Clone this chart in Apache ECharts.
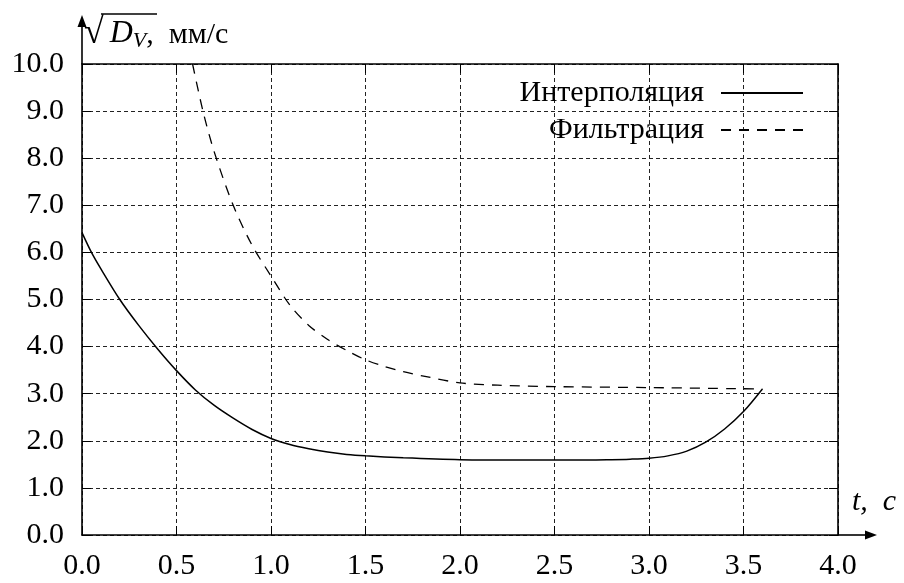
<!DOCTYPE html>
<html>
<head>
<meta charset="utf-8">
<script src="https://cdn.jsdelivr.net/npm/echarts@6/dist/echarts.min.js"></script>
<style>
html,body{margin:0;padding:0;background:#fff;}
#chart{width:904px;height:583px;}
</style>
</head>
<body>
<div id="chart"></div>
<script>
// ---- data ----
const interpT = [0, 0.05, 0.1, 0.2, 0.3, 0.4, 0.5, 0.6, 0.7, 0.8, 0.9, 1.0, 1.1, 1.2, 1.3, 1.4, 1.5, 1.7, 2.0, 2.3, 2.6, 2.8, 2.9, 3.0, 3.1, 3.2, 3.3, 3.4, 3.5, 3.6];
const interpV = [6.42, 6.0, 5.65, 5.0, 4.45, 3.95, 3.49, 3.08, 2.75, 2.48, 2.24, 2.05, 1.92, 1.83, 1.76, 1.71, 1.68, 1.64, 1.60, 1.59, 1.59, 1.60, 1.61, 1.63, 1.68, 1.78, 1.97, 2.25, 2.62, 3.10];
const filtT = [0.585, 0.64, 0.7, 0.8, 0.9, 1.0, 1.1, 1.2, 1.3, 1.4, 1.5, 1.6, 1.7, 1.8, 2.0, 2.2, 2.5, 3.0, 3.6];
const filtV = [10.0, 9.0, 8.13, 7.0, 6.15, 5.5, 4.88, 4.45, 4.15, 3.92, 3.72, 3.58, 3.47, 3.38, 3.23, 3.18, 3.15, 3.13, 3.10];
const seriesNames = ['Интерполяция', 'Фильтрация'];
const xTicks = {min: 0, max: 4, interval: 0.5};
const yTicks = {min: 0, max: 10, interval: 1};
const yAxisName = ['√', 'D', 'V', ',  мм/с'];
const xAxisName = 't,  c';

const FONT = '"Liberation Serif", "DejaVu Serif", serif';
const chart = echarts.init(document.getElementById('chart'), null, {renderer: 'canvas'});

const G = {left: 82, right: 66, top: 64, bottom: 48};
const W = 904, H = 583;
const L = G.left, R = W - G.right, T = G.top, B = H - G.bottom;

function zip(a, b) { return a.map((v, i) => [v, b[i]]); }

const axisLineStyle = {color: '#000', width: 1.6};
const tickStyle = {show: true, inside: true, length: 9, lineStyle: {color: '#000', width: 1}};
const gridLine = {show: true, lineStyle: {color: '#222', width: 1, type: [4, 3]}};

const option = {
  animation: false,
  backgroundColor: '#fff',
  color: ['#000', '#000'],
  grid: {left: G.left, right: G.right, top: G.top, bottom: G.bottom, containLabel: false},
  legend: {
    orient: 'vertical', right: 100, top: 78, align: 'right', padding: 0,
    itemWidth: 82, itemHeight: 14, itemGap: 7,
    data: seriesNames,
    itemStyle: {color: 'rgba(0,0,0,0)', borderWidth: 0, opacity: 0},
    textStyle: {fontFamily: FONT, fontSize: 30, color: '#000', padding: [0, 12, 0, 0]}
  },
  xAxis: [{
    type: 'value', position: 'bottom', min: xTicks.min, max: xTicks.max, interval: xTicks.interval,
    axisLine: {show: true, onZero: false, lineStyle: axisLineStyle},
    axisTick: tickStyle, splitLine: gridLine,
    axisLabel: {fontFamily: FONT, fontSize: 30, color: '#000', margin: 16,
      formatter: v => v.toFixed(1)},
    name: xAxisName, nameLocation: 'end', nameGap: 14,
    nameTextStyle: {fontFamily: FONT, fontSize: 30, fontStyle: 'italic', color: '#000',
      align: 'left', verticalAlign: 'bottom', padding: [0, 0, 18, 0]}
  }, {
    type: 'value', position: 'top', min: xTicks.min, max: xTicks.max, interval: xTicks.interval,
    axisLine: {show: true, onZero: false, lineStyle: axisLineStyle},
    axisTick: tickStyle, splitLine: {show: false}, axisLabel: {show: false}
  }],
  yAxis: [{
    type: 'value', position: 'left', min: yTicks.min, max: yTicks.max, interval: yTicks.interval,
    axisLine: {show: true, onZero: false, lineStyle: axisLineStyle},
    axisTick: tickStyle, splitLine: gridLine,
    axisLabel: {fontFamily: FONT, fontSize: 30, color: '#000', margin: 18,
      formatter: v => v.toFixed(1)},
    name: '{sq|' + yAxisName[0] + '}{d|' + yAxisName[1] + '}{v|' + yAxisName[2] + '}{u|' + yAxisName[3] + '}',
    nameLocation: 'end', nameGap: 12,
    nameTextStyle: {
      align: 'left', verticalAlign: 'bottom', padding: [0, 0, 0, 2],
      rich: {
        sq: {fontFamily: FONT, fontSize: 36, color: '#000', lineHeight: 36, verticalAlign: 'bottom'},
        d: {fontFamily: FONT, fontSize: 32, fontStyle: 'italic', color: '#000', lineHeight: 32, verticalAlign: 'bottom', padding: [0, 0, 2, 6]},
        v: {fontFamily: FONT, fontSize: 22, fontStyle: 'italic', color: '#000', lineHeight: 22, verticalAlign: 'bottom', padding: [0, 0, 0, 0]},
        u: {fontFamily: FONT, fontSize: 30, color: '#000', lineHeight: 30, verticalAlign: 'bottom', padding: [0, 0, 2, 0]}
      }
    }
  }, {
    type: 'value', position: 'right', min: yTicks.min, max: yTicks.max, interval: yTicks.interval,
    axisLine: {show: true, onZero: false, lineStyle: axisLineStyle},
    axisTick: tickStyle, splitLine: {show: false}, axisLabel: {show: false}
  }],
  series: [{
    name: seriesNames[0], type: 'line', xAxisIndex: 0, yAxisIndex: 0,
    data: zip(interpT, interpV), symbol: 'none', showSymbol: false,
    smooth: 0.3, clip: true,
    itemStyle: {color: '#000'},
    lineStyle: {color: '#000', width: 1.5, type: 'solid'}
  }, {
    name: seriesNames[1], type: 'line', xAxisIndex: 0, yAxisIndex: 0,
    data: zip(filtT, filtV), symbol: 'none', showSymbol: false,
    smooth: 0.3, clip: true,
    itemStyle: {color: '#000'},
    lineStyle: {color: '#000', width: 1.3, type: [10, 8]}
  }],
  graphic: [
    // axis arrow extensions
    {type: 'line', shape: {x1: R, y1: B, x2: R + 30, y2: B}, style: {stroke: '#000', lineWidth: 1.6}, z: 10},
    {type: 'polygon', shape: {points: [[R + 39, B], [R + 27, B - 4.5], [R + 27, B + 4.5]]}, style: {fill: '#000'}, z: 10},
    {type: 'line', shape: {x1: L, y1: T, x2: L, y2: T - 40}, style: {stroke: '#000', lineWidth: 1.6}, z: 10},
    {type: 'polygon', shape: {points: [[L, T - 49], [L - 4.5, T - 37], [L + 4.5, T - 37]]}, style: {fill: '#000'}, z: 10},
    // overline of the square root sign
    {type: 'line', shape: {x1: 101, y1: 14, x2: 157, y2: 14}, style: {stroke: '#000', lineWidth: 1.4}, z: 10}
  ]
};
chart.setOption(option);
</script>
</body>
</html>
